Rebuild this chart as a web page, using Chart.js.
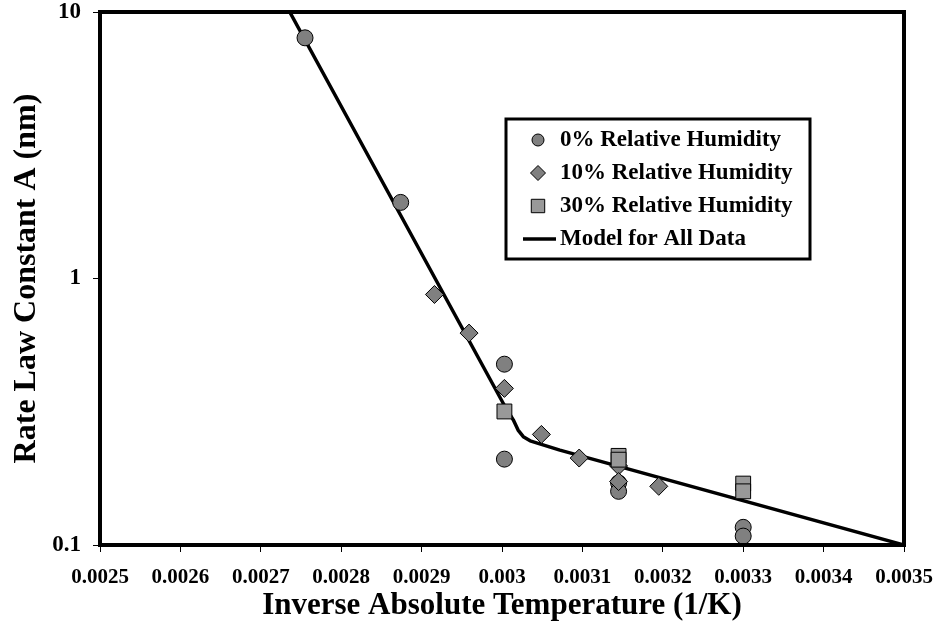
<!DOCTYPE html>
<html>
<head>
<meta charset="utf-8">
<script src="https://cdn.jsdelivr.net/npm/chart.js@4/dist/chart.umd.min.js"></script>
<style>
  html, body { margin: 0; padding: 0; background: #fff; }
  canvas { display: block; }
</style>
</head>
<body>
<canvas id="c" width="937" height="638"></canvas>
<script>
// ---- data ----
const rh0X  = [0.002755, 0.002874, 0.003003, 0.003003, 0.003145, 0.003145, 0.003300, 0.003300];
const rh0Y  = [8.0, 1.93, 0.477, 0.210, 0.171, 0.159, 0.1165, 0.108];

const rh10X = [0.002916, 0.002959, 0.003003, 0.003049, 0.003096, 0.003145, 0.003145, 0.003195];
const rh10Y = [0.871, 0.624, 0.387, 0.260, 0.212, 0.198, 0.173, 0.166];

const rh30X = [0.003003, 0.003145, 0.003145, 0.003300, 0.003300];
const rh30Y = [0.317, 0.216, 0.209, 0.170, 0.159];

const modelX = [0.002736, 0.0030025, 0.003014, 0.003020, 0.0030265, 0.003035, 0.003072, 0.003500];
const modelY = [10, 0.336, 0.295, 0.270, 0.255, 0.246, 0.227, 0.1];

const seriesLabels = ['0% Relative Humidity', '10% Relative Humidity', '30% Relative Humidity', 'Model for All Data'];

const xTicks = [0.0025, 0.0026, 0.0027, 0.0028, 0.0029, 0.0030, 0.0031, 0.0032, 0.0033, 0.0034, 0.0035];
const xTickLabels = ['0.0025', '0.0026', '0.0027', '0.0028', '0.0029', '0.003', '0.0031', '0.0032', '0.0033', '0.0034', '0.0035'];
const yTicks = [0.1, 1, 10];
const yTickLabels = ['0.1', '1', '10'];

const xTitle = 'Inverse Absolute Temperature (1/K)';
const yTitle = 'Rate Law Constant A (nm)';

// ---- build ----
const pts = (xs, ys) => xs.map((x, i) => ({ x: x, y: ys[i] }));
const FONT = "'Liberation Serif', 'Times New Roman', serif";

const framePlugin = {
  id: 'frameAndLegend',
  afterDraw(chart) {
    const { ctx, chartArea: a } = chart;
    ctx.save();
    // plot frame
    ctx.strokeStyle = '#000';
    ctx.lineWidth = 4;
    ctx.strokeRect(a.left, a.top, a.right - a.left, a.bottom - a.top);

    // legend box
    const bx = 506, by = 119, bw = 304, bh = 140;
    ctx.fillStyle = '#fff';
    ctx.fillRect(bx, by, bw, bh);
    ctx.lineWidth = 3;
    ctx.strokeRect(bx, by, bw, bh);

    const rowY = [140, 173, 206, 239];
    const mx = 538;
    const legendRadius = [6, 7.5, 9.5];
    chart.data.datasets.forEach((ds, i) => {
      const y = rowY[i];
      if (ds.showLine) {
        ctx.strokeStyle = ds.borderColor;
        ctx.lineWidth = 3.5;
        ctx.beginPath();
        ctx.moveTo(523, y);
        ctx.lineTo(556, y);
        ctx.stroke();
      } else {
        ctx.fillStyle = ds.backgroundColor;
        ctx.strokeStyle = ds.borderColor;
        ctx.lineWidth = 1;
        Chart.helpers.drawPoint(ctx, { pointStyle: ds.pointStyle, radius: legendRadius[i], borderWidth: 1, rotation: 0 }, mx, y);
      }
      ctx.fillStyle = '#000';
      ctx.font = "bold 23px " + FONT;
      ctx.textAlign = 'left';
      ctx.textBaseline = 'middle';
      ctx.fillText(ds.label, 560, y);
    });
    ctx.restore();
  }
};

new Chart(document.getElementById('c'), {
  type: 'scatter',
  data: {
    datasets: [
      {
        label: seriesLabels[0],
        data: pts(rh0X, rh0Y),
        pointStyle: 'circle',
        pointRadius: 8,
        backgroundColor: '#808080',
        borderColor: '#000',
        borderWidth: 1,
        showLine: false,
        order: 2
      },
      {
        label: seriesLabels[1],
        data: pts(rh10X, rh10Y),
        pointStyle: 'rectRot',
        pointRadius: 9,
        backgroundColor: '#808080',
        borderColor: '#000',
        borderWidth: 1,
        showLine: false,
        order: 1
      },
      {
        label: seriesLabels[2],
        data: pts(rh30X, rh30Y),
        pointStyle: 'rect',
        pointRadius: 10.5,
        backgroundColor: '#999999',
        borderColor: '#000',
        borderWidth: 1,
        showLine: false,
        order: 0
      },
      {
        label: seriesLabels[3],
        data: pts(modelX, modelY),
        showLine: true,
        pointRadius: 0,
        borderColor: '#000',
        backgroundColor: '#000',
        borderWidth: 3.5,
        tension: 0,
        borderJoinStyle: 'round',
        order: 3
      }
    ]
  },
  options: {
    responsive: false,
    animation: false,
    devicePixelRatio: 1,
    layout: { padding: { top: 12, right: 33, left: 0, bottom: 0 } },
    plugins: {
      legend: { display: false },
      tooltip: { enabled: false }
    },
    scales: {
      x: {
        type: 'linear',
        min: 0.0025,
        max: 0.0035,
        afterBuildTicks(scale) { scale.ticks = xTicks.map(v => ({ value: v })); },
        afterFit(scale) {
          scale.height = 93;
          scale.paddingLeft = 0; scale.paddingRight = 0;
        },
        ticks: {
          autoSkip: false,
          maxRotation: 0,
          padding: 13,
          color: '#000',
          font: { family: FONT, size: 21, weight: 'bold' },
          callback: (v, i) => xTickLabels[i]
        },
        grid: { display: true, drawOnChartArea: false, drawTicks: true, tickLength: 7, color: '#000', lineWidth: 1 },
        border: { display: false },
        title: {
          display: true,
          text: xTitle,
          color: '#000',
          font: { family: FONT, size: 31, weight: 'bold', lineHeight: 1.2 },
          padding: { top: 0, bottom: 13 }
        }
      },
      y: {
        type: 'logarithmic',
        min: 0.1,
        max: 10,
        afterBuildTicks(scale) { scale.ticks = yTicks.map(v => ({ value: v })); },
        afterFit(scale) {
          scale.width = 100;
          scale.paddingTop = 0; scale.paddingBottom = 0;
        },
        ticks: {
          autoSkip: false,
          padding: 12,
          color: '#000',
          font: { family: FONT, size: 23, weight: 'bold' },
          callback: (v, i) => yTickLabels[i]
        },
        grid: { display: true, drawOnChartArea: false, drawTicks: true, tickLength: 7, color: '#000', lineWidth: 1 },
        border: { display: false },
        title: {
          display: true,
          text: yTitle,
          color: '#000',
          font: { family: FONT, size: 32, weight: 'bold', lineHeight: 1.2 },
          padding: { top: 8, bottom: 0 }
        }
      }
    }
  },
  plugins: [framePlugin]
});
</script>
</body>
</html>
